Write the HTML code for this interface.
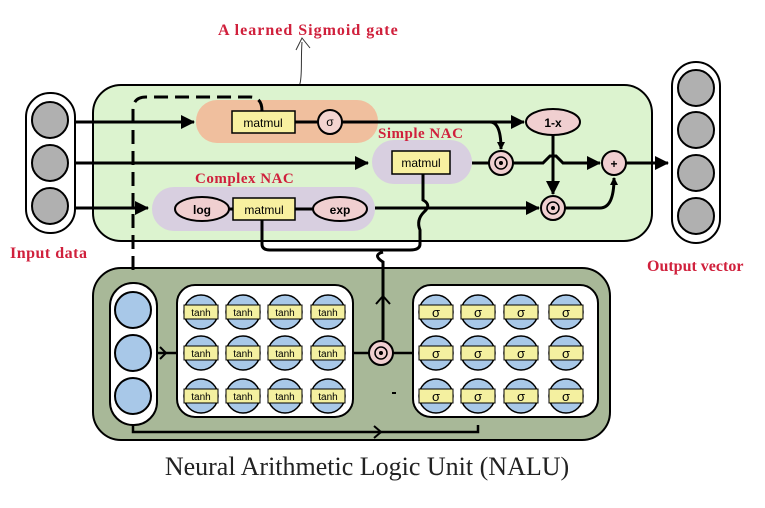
<!DOCTYPE html>
<html><head><meta charset="utf-8"><style>body{margin:0;background:#fff}svg{display:block}</style></head><body>
<svg width="765" height="508" viewBox="0 0 765 508" xmlns="http://www.w3.org/2000/svg">
<defs><marker id="a" markerWidth="8" markerHeight="8" refX="7" refY="4" orient="auto" markerUnits="userSpaceOnUse"><path d="M0,0 L8,4 L0,8z" fill="#000"/></marker>
<marker id="b" markerWidth="14" markerHeight="14" refX="13" refY="7" orient="auto" markerUnits="userSpaceOnUse"><path d="M0,0 L14,7 L0,14z" fill="#000"/></marker>
<g id="c">
<circle r="17" fill="#a8c8e8" stroke="#000" stroke-width="1.5"/>
<rect x="-17" y="-7" width="34" height="14" fill="#f4f0a0" stroke="#000" stroke-width="1"/>
</g></defs>
<g font-family="Liberation Serif, serif" font-weight="bold" fill="#d0203c" font-size="16" letter-spacing="1">
<text x="218" y="35">A learned Sigmoid gate</text>
<text x="10" y="258" letter-spacing="0.5">Input data</text>
<text x="647" y="271" letter-spacing="0">Output vector</text>
</g>
<path d="M292,98 C305,85 300,70 302,42 M296,50 L302,38 L310,48" fill="none" stroke="#333" stroke-width="1"/>
<rect x="93" y="85" width="559" height="156" rx="28" fill="#dcf3cf" stroke="#000" stroke-width="2"/>
<rect x="93" y="268" width="517" height="172" rx="28" fill="#a8b898" stroke="#000" stroke-width="2"/>
<rect x="196" y="100" width="182" height="43" rx="21" fill="#f0bf9e"/>
<rect x="372" y="140" width="100" height="44" rx="22" fill="#d8cfe0"/>
<rect x="152" y="187" width="223" height="44" rx="22" fill="#d8cfe0"/>
<g font-family="Liberation Serif, serif" font-weight="bold" fill="#d0203c" font-size="15" letter-spacing="0.5">
<text x="378" y="138">Simple NAC</text><text x="195" y="183">Complex NAC</text></g>
<g fill="none" stroke="#000" stroke-width="3">
<path d="M133,270 V110 Q133,97 146,97 H250 Q262,97 262,111" stroke-dasharray="14,7"/>
<path d="M75,122 H194" marker-end="url(#b)"/>
<path d="M295,122 H318 M342,122 H524" marker-end="url(#b)"/>
<path d="M490,122 Q501,122 501,149" marker-end="url(#a)"/>
<path d="M75,163 H368" marker-end="url(#b)"/>
<path d="M472,163 H489 M513,163 H543 L550,156 L556,156 L563,163 H600" marker-end="url(#b)"/>
<path d="M553,135 V194" marker-end="url(#b)"/>
<path d="M75,208 H148" marker-end="url(#b)"/>
<path d="M375,208 H539" marker-end="url(#b)"/>
<path d="M565,208 H600 Q614,208 614,178" marker-end="url(#a)"/>
<path d="M626,163 H668" marker-end="url(#b)"/>
<path d="M229,209 H233 M295,209 H313"/>
<path d="M262,220 V244 Q262,250 270,250 H383"/>
<path d="M423,174 V200 Q432,205 424,212 Q416,220 420,230 V244 Q420,250 410,250 H383"/>
<path d="M383,252 Q372,255 383,262 V340"/>
<path d="M376,304 L383,296 L390,304" stroke-width="2"/>
<path d="M133,425 V432 H478 V425" stroke-width="2.5"/>
<path d="M374,426 L381,432 L374,438" stroke-width="2"/>
<path d="M157,353 H190" stroke-width="2.5"/><path d="M160,347 L166,353 L160,359" stroke-width="2"/>
<path d="M353,353 H369 M393,353 H413" stroke-width="2.5"/>
</g>
<rect x="26" y="93" width="49" height="140" rx="24" fill="#fff" stroke="#000" stroke-width="2"/>
<g fill="#b0b0b0" stroke="#000" stroke-width="2"><circle cx="50" cy="120" r="18"/><circle cx="50" cy="163" r="18"/><circle cx="50" cy="206" r="18"/></g>
<rect x="672" y="62" width="48" height="181" rx="24" fill="#fff" stroke="#000" stroke-width="2"/>
<g fill="#b0b0b0" stroke="#000" stroke-width="2"><circle cx="696" cy="88" r="18"/><circle cx="696" cy="130" r="18"/><circle cx="696" cy="173" r="18"/><circle cx="696" cy="216" r="18"/></g>
<g font-family="Liberation Sans, sans-serif" font-size="12" text-anchor="middle">
<rect x="232" y="111" width="63" height="22" fill="#f8f0a0" stroke="#000" stroke-width="1.5"/><text x="263" y="127">matmul</text>
<circle cx="330" cy="122" r="12" fill="#f3d4d0" stroke="#000" stroke-width="2"/><text x="330" y="126">σ</text>
<rect x="392" y="151" width="58" height="23" fill="#f8f0a0" stroke="#000" stroke-width="1.5"/><text x="421" y="167">matmul</text>
<rect x="233" y="198" width="62" height="22" fill="#f8f0a0" stroke="#000" stroke-width="1.5"/><text x="264" y="214">matmul</text>
<ellipse cx="202" cy="209" rx="27" ry="12" fill="#f0cfd0" stroke="#000" stroke-width="2"/><text x="202" y="214" font-weight="bold">log</text>
<ellipse cx="340" cy="209" rx="27" ry="12" fill="#f0cfd0" stroke="#000" stroke-width="2"/><text x="340" y="214" font-weight="bold">exp</text>
<ellipse cx="553" cy="122" rx="27" ry="13" fill="#f0cfd0" stroke="#000" stroke-width="2"/><text x="553" y="127" font-weight="bold">1-x</text>
<circle cx="614" cy="163" r="12" fill="#f0cfd0" stroke="#000" stroke-width="2"/><text x="614" y="168" font-weight="bold">+</text>
</g>
<g fill="#f0cfd0" stroke="#000" stroke-width="2"><circle cx="501" cy="163" r="12"/><circle cx="553" cy="208" r="12"/><circle cx="381" cy="353" r="12"/></g>
<g fill="none" stroke="#000" stroke-width="1.5"><circle cx="501" cy="163" r="6"/><circle cx="553" cy="208" r="6"/><circle cx="381" cy="353" r="6"/></g>
<g fill="#000"><circle cx="501" cy="163" r="2"/><circle cx="553" cy="208" r="2"/><circle cx="381" cy="353" r="2"/></g>
<rect x="110" y="283" width="47" height="142" rx="23" fill="#fff" stroke="#000" stroke-width="2"/>
<g fill="#a8c8e8" stroke="#000" stroke-width="2"><circle cx="133" cy="310" r="18"/><circle cx="133" cy="353" r="18"/><circle cx="133" cy="396" r="18"/></g>
<rect x="177" y="285" width="176" height="132" rx="18" fill="#fff" stroke="#000" stroke-width="2"/>
<rect x="413" y="285" width="185" height="132" rx="18" fill="#fff" stroke="#000" stroke-width="2"/>
<g font-family="Liberation Sans, sans-serif" font-size="10" text-anchor="middle">
<use href="#c" x="201" y="312"/><use href="#c" x="243" y="312"/><use href="#c" x="285" y="312"/><use href="#c" x="328" y="312"/>
<use href="#c" x="201" y="353"/><use href="#c" x="243" y="353"/><use href="#c" x="285" y="353"/><use href="#c" x="328" y="353"/>
<use href="#c" x="201" y="396"/><use href="#c" x="243" y="396"/><use href="#c" x="285" y="396"/><use href="#c" x="328" y="396"/>
<use href="#c" x="436" y="312"/><use href="#c" x="478" y="312"/><use href="#c" x="521" y="312"/><use href="#c" x="566" y="312"/>
<use href="#c" x="436" y="353"/><use href="#c" x="478" y="353"/><use href="#c" x="521" y="353"/><use href="#c" x="566" y="353"/>
<use href="#c" x="436" y="396"/><use href="#c" x="478" y="396"/><use href="#c" x="521" y="396"/><use href="#c" x="566" y="396"/>
<text x="201" y="316">tanh</text><text x="243" y="316">tanh</text><text x="285" y="316">tanh</text><text x="328" y="316">tanh</text>
<text x="201" y="357">tanh</text><text x="243" y="357">tanh</text><text x="285" y="357">tanh</text><text x="328" y="357">tanh</text>
<text x="201" y="400">tanh</text><text x="243" y="400">tanh</text><text x="285" y="400">tanh</text><text x="328" y="400">tanh</text>
<g font-size="13"><text x="436" y="317">σ</text><text x="478" y="317">σ</text><text x="521" y="317">σ</text><text x="566" y="317">σ</text>
<text x="436" y="358">σ</text><text x="478" y="358">σ</text><text x="521" y="358">σ</text><text x="566" y="358">σ</text>
<text x="436" y="401">σ</text><text x="478" y="401">σ</text><text x="521" y="401">σ</text><text x="566" y="401">σ</text></g>
</g>
<rect x="392" y="392" width="4" height="2" fill="#000"/>
<text x="367" y="475" font-family="Liberation Serif, serif" font-size="26" text-anchor="middle" fill="#222">Neural Arithmetic Logic Unit (NALU)</text>
</svg>
</body></html>
